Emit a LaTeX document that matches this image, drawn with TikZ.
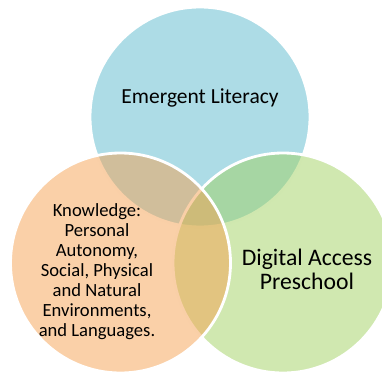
\documentclass[tikz,border=0pt]{standalone}
\usepackage{fontspec}
\setmainfont{Carlito}
\usepackage{tikz}

\definecolor{litcol}{RGB}{91,185,205}
\definecolor{digcol}{RGB}{161,209,97}
\definecolor{knowcol}{RGB}{245,161,81}

\begin{document}
\begin{tikzpicture}[x=1pt,y=-1pt]
\useasboundingbox (0,0) rectangle (382,374);

\coordinate (lit) at (200,117);
\coordinate (dig) at (283,263);
\coordinate (know) at (120.5,263);

% krogi
\tikzset{krog/.style={draw=white,line width=2.8pt,fill opacity=0.5}}
\draw[krog,fill=litcol] (lit) circle (110pt);
\draw[krog,fill=digcol] (dig) circle (110pt);
\draw[krog,fill=knowcol] (know) circle (110pt);

\node[inner sep=0pt,font=\fontsize{21.5}{24}\selectfont] (litlabel) at (200,98.2) {Emergent Literacy};
\node[inner sep=0pt,align=center,font=\fontsize{23.7}{24.3}\selectfont] (diglabel) at (307,269.5) {Digital Access\\Preschool};
\node[inner sep=0pt,align=center,font=\fontsize{18.6}{20}\selectfont] (knowlabel) at (97,271.7) {Knowledge:\\Personal\\Autonomy,\\Social, Physical\\and Natural\\Environments,\\and Languages.};
\end{tikzpicture}
\end{document}
